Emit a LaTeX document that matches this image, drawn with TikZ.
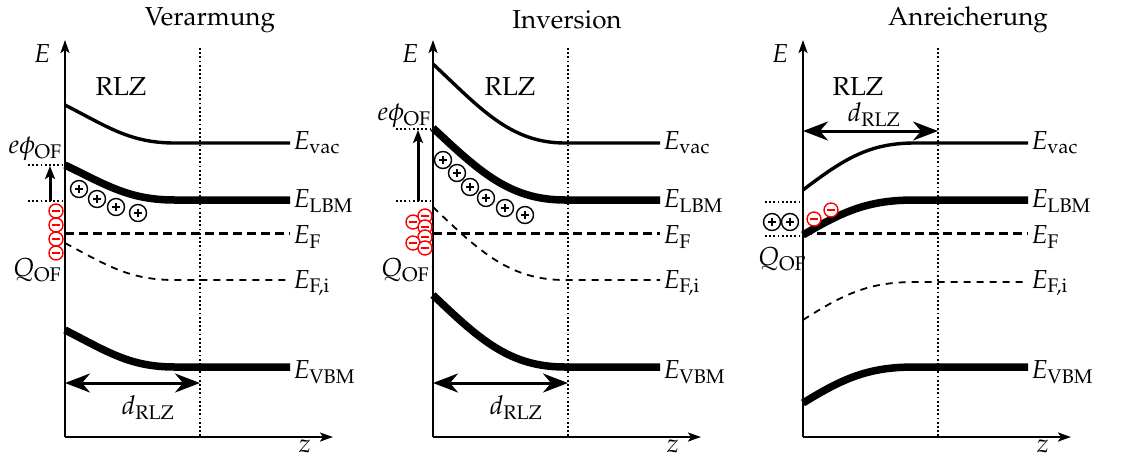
\documentclass[tikz,border=0pt]{standalone}
\usepackage[T1]{fontenc}
\usepackage{mathpazo}
\usetikzlibrary{arrows.meta}
\tikzset{
  every node/.style={font=\fontsize{26}{31}\selectfont, inner sep=1pt},
  axis/.style={line width=2.3pt, -{Stealth[length=13pt,width=9pt,inset=3pt]}},
  dimarrow/.style={line width=3pt, {Stealth[length=25pt,width=19pt,inset=8pt]}-{Stealth[length=25pt,width=19pt,inset=8pt]}},
  phiarrow/.style={line width=3pt, -{Stealth[length=13pt,width=10pt,inset=3pt]}},
  rlzline/.style={line width=1.8pt, dash pattern=on 1.8pt off 2.4pt},
  helpline/.style={line width=1.8pt, dash pattern=on 1.8pt off 2.4pt},
  vacline/.style={line width=3.4pt},
  bandline/.style={line width=7.5pt},
  fermiline/.style={line width=3pt, dash pattern=on 9pt off 5pt},
  fiLine/.style={line width=1.8pt, dash pattern=on 7pt off 6pt},
  pluscharge/.style={circle, draw=black, line width=1.4pt, minimum size=17pt, inner sep=0pt,
    path picture={\draw[line width=1.6pt, shift={(path picture bounding box.center)}] (-4.2pt,0pt) -- (4.2pt,0pt) (0pt,-4.2pt) -- (0pt,4.2pt);}},
  minuscharge/.style={circle, draw=red, fill=white, line width=1.4pt, minimum size=14pt, inner sep=0pt,
    path picture={\draw[red, line width=2.4pt, shift={(path picture bounding box.center)}] (-4pt,0pt) -- (4pt,0pt);}},
  lab/.style={anchor=west},
}
\begin{document}
\begin{tikzpicture}[x=1pt,y=-1pt]
\useasboundingbox (0,0) rectangle (1129,459);

% ================= Panel 1: Verarmung =================
\node (t1) at (210,20) {Verarmung};
\coordinate (o1) at (65,437);
\coordinate (e1) at (65,40);
\coordinate (z1) at (333,437);
\draw[axis] (o1) -- (e1);
\draw[axis] (o1) -- (z1);
\node (E1) at (42,54) {$E$};
\node (zz1) at (305,446) {$z$};
\coordinate (r1t) at (200,48);
\coordinate (r1b) at (200,437);
\draw[rlzline] (r1t) -- (r1b);
\node (rlz1) at (121,87) {RLZ};

\draw[vacline] (65,105) .. controls (108,127) and (130,143) .. (175,143) -- (290,143);
\draw[bandline] (65,165) .. controls (108,186) and (130,200) .. (175,200) -- (290,200);
\draw[fermiline] (65,233) -- (290,233);
\draw[fiLine] (65,243) .. controls (108,266) and (130,280) .. (175,280) -- (290,280);
\draw[bandline] (65,330) .. controls (108,352) and (130,367) .. (175,367) -- (290,367);

\node[lab] (vac1) at (292,143) {$E_{\mathrm{vac}}$};
\node[lab] (lbm1) at (292,201) {$E_{\mathrm{LBM}}$};
\node[lab] (ef1) at (292,237) {$E_{\mathrm{F}}$};
\node[lab] (efi1) at (292,283) {$E_{\mathrm{F,i}}$};
\node[lab] (vbm1) at (292,372) {$E_{\mathrm{VBM}}$};

\coordinate (p1a) at (28,165);
\coordinate (p1b) at (65,165);
\coordinate (p1c) at (28,201);
\coordinate (p1d) at (65,201);
\draw[helpline] (p1a) -- (p1b);
\draw[helpline] (p1c) -- (p1d);
\coordinate (ar1s) at (50,201);
\coordinate (ar1e) at (50,166);
\draw[phiarrow] (ar1s) -- (ar1e);
\node (phi1) at (35,149) {$e\phi_{\mathrm{OF}}$};
\node (q1) at (37,270) {$Q_{\mathrm{OF}}$};

\node[minuscharge] (m11) at (56,211) {};
\node[minuscharge] (m12) at (56,225) {};
\node[minuscharge] (m13) at (56,239) {};
\node[minuscharge] (m14) at (56,253) {};
\node[pluscharge] (c11) at (79,189) {};
\node[pluscharge] (c12) at (97,199) {};
\node[pluscharge] (c13) at (116,207) {};
\node[pluscharge] (c14) at (138,213) {};

\coordinate (d1a) at (65,383);
\coordinate (d1b) at (200,383);
\draw[dimarrow] (d1a) -- (d1b);
\node (dr1) at (148,408) {$d_{\mathrm{RLZ}}$};

% ================= Panel 2: Inversion =================
\node (t2) at (567,20) {Inversion};
\coordinate (o2) at (433,437);
\coordinate (e2) at (433,40);
\coordinate (z2) at (701,437);
\draw[axis] (o2) -- (e2);
\draw[axis] (o2) -- (z2);
\node (E2) at (410,54) {$E$};
\node (zz2) at (673,446) {$z$};
\coordinate (r2t) at (568,48);
\coordinate (r2b) at (568,437);
\draw[rlzline] (r2t) -- (r2b);
\node (rlz2) at (510,87) {RLZ};

\draw[vacline] (433,64) .. controls (480,108) and (510,143) .. (565,143) -- (660,143);
\draw[bandline] (433,128) .. controls (480,172) and (510,200) .. (565,200) -- (660,200);
\draw[fermiline] (433,233) -- (660,233);
\draw[fiLine] (433,207) .. controls (480,252) and (510,280) .. (565,280) -- (660,280);
\draw[bandline] (433,295) .. controls (480,340) and (510,367) .. (565,367) -- (660,367);

\node[lab] (vac2) at (662,143) {$E_{\mathrm{vac}}$};
\node[lab] (lbm2) at (662,201) {$E_{\mathrm{LBM}}$};
\node[lab] (ef2) at (662,237) {$E_{\mathrm{F}}$};
\node[lab] (efi2) at (662,283) {$E_{\mathrm{F,i}}$};
\node[lab] (vbm2) at (662,372) {$E_{\mathrm{VBM}}$};

\coordinate (p2a) at (396,129);
\coordinate (p2b) at (433,129);
\coordinate (p2c) at (396,201);
\coordinate (p2d) at (433,201);
\draw[helpline] (p2a) -- (p2b);
\draw[helpline] (p2c) -- (p2d);
\coordinate (ar2s) at (418,201);
\coordinate (ar2e) at (418,130);
\draw[phiarrow] (ar2s) -- (ar2e);
\node (phi2) at (404,116) {$e\phi_{\mathrm{OF}}$};
\node (q2) at (405,270) {$Q_{\mathrm{OF}}$};

\node[minuscharge] (m21) at (413,222) {};
\node[minuscharge] (m22) at (425,216) {};
\node[minuscharge] (m23) at (425,227) {};
\node[minuscharge] (m24) at (425,237) {};
\node[minuscharge] (m25) at (413,243) {};
\node[minuscharge] (m26) at (425,248) {};
\node[pluscharge] (c21) at (443,160) {};
\node[pluscharge] (c22) at (457,173) {};
\node[pluscharge] (c23) at (470,187) {};
\node[pluscharge] (c24) at (486,198) {};
\node[pluscharge] (c25) at (505,208) {};
\node[pluscharge] (c26) at (525,215) {};

\coordinate (d2a) at (433,383);
\coordinate (d2b) at (568,383);
\draw[dimarrow] (d2a) -- (d2b);
\node (dr2) at (516,408) {$d_{\mathrm{RLZ}}$};

% ================= Panel 3: Anreicherung =================
\node (t3) at (968,20) {Anreicherung};
\coordinate (o3) at (803,437);
\coordinate (e3) at (803,40);
\coordinate (z3) at (1071,437);
\draw[axis] (o3) -- (e3);
\draw[axis] (o3) -- (z3);
\node (E3) at (780,54) {$E$};
\node (zz3) at (1043,446) {$z$};
\coordinate (r3t) at (938,48);
\coordinate (r3b) at (938,437);
\draw[rlzline] (r3t) -- (r3b);
\node (rlz3) at (858,87) {RLZ};

\draw[vacline] (803,190) .. controls (845,158) and (870,143) .. (915,143) -- (1028,143);
\draw[fermiline] (803,233) -- (1028,233);
\draw[bandline] (803,235) .. controls (845,210) and (870,200) .. (915,200) -- (1028,200);
\draw[fiLine] (803,320) .. controls (845,293) and (870,282) .. (915,282) -- (1028,282);
\draw[bandline] (803,403) .. controls (845,377) and (870,367) .. (915,367) -- (1028,367);

\node[lab] (vac3) at (1030,143) {$E_{\mathrm{vac}}$};
\node[lab] (lbm3) at (1030,201) {$E_{\mathrm{LBM}}$};
\node[lab] (ef3) at (1030,237) {$E_{\mathrm{F}}$};
\node[lab] (efi3) at (1030,283) {$E_{\mathrm{F,i}}$};
\node[lab] (vbm3) at (1030,372) {$E_{\mathrm{VBM}}$};

\coordinate (p3a) at (765,202);
\coordinate (p3b) at (803,202);
\coordinate (p3c) at (765,236);
\coordinate (p3d) at (803,236);
\draw[helpline] (p3a) -- (p3b);
\draw[helpline] (p3c) -- (p3d);
\node[pluscharge] (c31) at (772,222) {};
\node[pluscharge] (c32) at (790,222) {};
\node[minuscharge] (m31) at (814,219) {};
\node[minuscharge] (m32) at (831,210) {};
\node (q3) at (782,259) {$Q_{\mathrm{OF}}$};

\coordinate (d3a) at (803,131);
\coordinate (d3b) at (938,131);
\draw[dimarrow] (d3a) -- (d3b);
\node (dr3) at (874,115) {$d_{\mathrm{RLZ}}$};
\end{tikzpicture}
\end{document}
